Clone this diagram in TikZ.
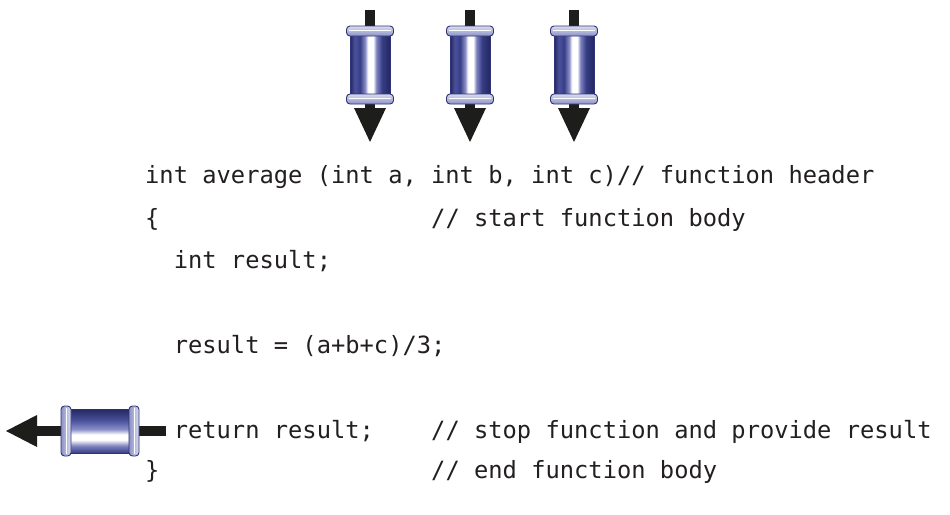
\documentclass[tikz,border=0pt]{standalone}
\usepackage{fontspec}
\setmonofont{DejaVu Sans Mono}
\definecolor{ink}{HTML}{231F20}
\definecolor{shaft}{HTML}{1D1D1B}
\definecolor{navy}{HTML}{23275F}
\definecolor{navyb}{HTML}{373D85}
\definecolor{bluem}{HTML}{4B519C}
\definecolor{bluel}{HTML}{8A8FC8}
\definecolor{bluer}{HTML}{7C82BE}
\definecolor{capl}{HTML}{D9DCF0}
\definecolor{capd}{HTML}{8C92C6}
\definecolor{capline}{HTML}{2E3375}
% body of an upright barrel: dark rims, bright band right of centre
\pgfdeclarehorizontalshading{barrelv}{100bp}{
  color(0bp)=(navy); color(25bp)=(navy); color(31bp)=(bluem);
  color(37.5bp)=(navyb); color(44bp)=(bluel); color(47.5bp)=(white);
  color(54bp)=(white); color(58bp)=(bluer); color(65bp)=(navyb);
  color(75bp)=(navy); color(100bp)=(navy)}
% body of a lying barrel: bright band below the middle
\pgfdeclareverticalshading{barrelh}{100bp}{
  color(0bp)=(navyb); color(25bp)=(navyb); color(33bp)=(bluer);
  color(40bp)=(white); color(46bp)=(white); color(52bp)=(bluel);
  color(62bp)=(bluem); color(75bp)=(navy); color(100bp)=(navy)}
\begin{document}
\begin{tikzpicture}[x=1pt,y=-1pt]
\tikzset{
  code/.style={font=\ttfamily\fontsize{23.75}{28}\selectfont, text=ink,
    inner sep=0pt, anchor=base west},
  shaftfill/.style={fill=shaft, draw=none},
  rim/.style={draw=capline, line width=0.9pt, rounded corners=3.5pt},
  vcyl/.pic={
    \fill[shaftfill] (-5,-16) rectangle (5,1);
    \fill[shaftfill] (-5,76) rectangle (5,83);
    \fill[shaftfill] (-16,82) -- (16,82) -- (0,116) -- cycle;
    \shade[shading=barrelv] (-20,8) rectangle (20,69);
    \draw[capline, line width=0.6pt] (-20,8) -- (-20,69) (20,8) -- (20,69);
    \shade[rim, top color=capl, bottom color=capd] (-23.5,0) rectangle (23.5,10);
    \draw[white, line width=1pt] (-21,4.7) -- (21,4.7);
    \shade[rim, top color=capl, bottom color=capd] (-23.5,68) rectangle (23.5,78);
    \draw[white, line width=1pt] (-21,72.7) -- (21,72.7);
  },
  hcyl/.pic={
    \fill[shaftfill] (0,0) -- (31,-16) -- (31,16) -- cycle;
    \fill[shaftfill] (30,-5) rectangle (56,5);
    \fill[shaftfill] (132,-5) rectangle (160,5);
    \shade[shading=barrelh] (64,-22) rectangle (124,22);
    \draw[capline, line width=0.6pt] (64,-22) -- (124,-22) (64,22) -- (124,22);
    \shade[rim, left color=capd, right color=capl] (55,-25) rectangle (65,25);
    \draw[white, line width=1pt] (60,-23) -- (60,23);
    \shade[rim, left color=capd, right color=capl] (123,-25) rectangle (133,25);
    \draw[white, line width=1pt] (128,-23) -- (128,23);
  }
}
\useasboundingbox (0,0) rectangle (950,514);
\fill[white] (0,0) rectangle (950,514);

% the three parameters flowing in
\pic (inA) at (370,26) {vcyl};
\pic (inB) at (470,26) {vcyl};
\pic (inC) at (574,26) {vcyl};

% the returned value flowing out
\pic (out) at (6,431) {hcyl};

% source text
\node[code] (hdr)  at (145,183)   {int average (int a, int b, int c)// function header};
\node[code] (open) at (145,226)   {\{};
\node[code] (copen) at (431,226)  {// start function body};
\node[code] (decl) at (173.6,268) {int result;};
\node[code] (calc) at (173.6,353) {result = (a+b+c)/3;};
\node[code] (ret)  at (173.6,438) {return result;};
\node[code] (cret) at (431,438)   {// stop function and provide result};
\node[code] (close) at (145,478)  {\}};
\node[code] (cclose) at (431,478) {// end function body};
\end{tikzpicture}
\end{document}
